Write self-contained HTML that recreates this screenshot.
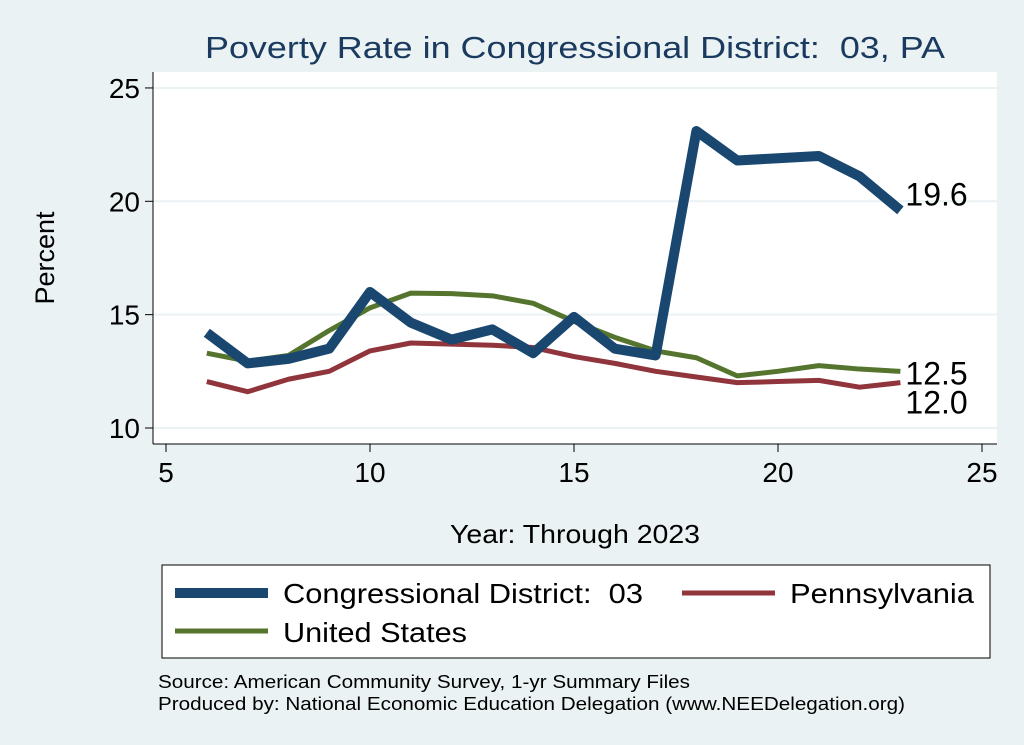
<!DOCTYPE html>
<html><head><meta charset="utf-8"><style>
body{margin:0;background:#eaf2f3;}
svg{display:block;font-family:"Liberation Sans",sans-serif;}
</style></head><body>
<svg id="chart" width="1024" height="745">
<rect x="0" y="0" width="1024" height="745" fill="#eaf2f3"/>
<text x="205" y="58" font-size="31" fill="#1a3a5f" textLength="740" lengthAdjust="spacingAndGlyphs">Poverty Rate in Congressional District:&#160; 03, PA</text>
<rect x="153" y="72" width="844" height="372" fill="#fff"/>
<g id="grid"></g><g id="axes"></g><g id="series"></g>
<text x="54" y="258" text-anchor="middle" font-size="27" transform="rotate(-90 54 258)">Percent</text>
<text x="450" y="543" font-size="26" textLength="250" lengthAdjust="spacingAndGlyphs">Year: Through 2023</text>
<g>
<rect x="162" y="565" width="828" height="93" fill="#fff" stroke="#000" stroke-width="1"/>
<line x1="175" y1="593" x2="268" y2="593" stroke="#1a476f" stroke-width="10"/>
<text x="283" y="603" font-size="28" textLength="360" lengthAdjust="spacingAndGlyphs">Congressional District:&#160; 03</text>
<line x1="682" y1="593" x2="775" y2="593" stroke="#90353b" stroke-width="5"/>
<text x="790" y="603" font-size="28" textLength="184" lengthAdjust="spacingAndGlyphs">Pennsylvania</text>
<line x1="175" y1="631" x2="268" y2="631" stroke="#55752f" stroke-width="5"/>
<text x="283" y="642" font-size="28" textLength="184" lengthAdjust="spacingAndGlyphs">United States</text>
</g>
<text x="158" y="688" font-size="18" textLength="532" lengthAdjust="spacingAndGlyphs">Source: American Community Survey, 1-yr Summary Files</text>
<text x="158" y="710" font-size="18" textLength="747" lengthAdjust="spacingAndGlyphs">Produced by: National Economic Education Delegation (www.NEEDelegation.org)</text>
</svg>
<script>
const years=[6,7,8,9,10,11,12,13,14,15,16,17,18,19,20,21,22,23];
const cdValues=[14.2,12.85,13.05,13.5,16.0,14.65,13.9,14.35,13.3,14.9,13.5,13.2,23.1,21.8,21.9,22.0,21.1,19.6];
const usValues=[13.3,12.95,13.2,14.3,15.3,15.95,15.93,15.83,15.5,14.7,14.0,13.4,13.1,12.3,12.5,12.75,12.6,12.5];
const paValues=[12.05,11.6,12.15,12.5,13.4,13.75,13.7,13.65,13.55,13.15,12.85,12.5,12.25,12.0,12.05,12.1,11.8,12.0];
const xTicks=[5,10,15,20,25];
const yTicks=[10,15,20,25];
const NS="http://www.w3.org/2000/svg";
const x=v=>166+(v-5)*40.8;
const y=v=>428-(v-10)*22.67;
function mk(tag,attrs,parent){const e=document.createElementNS(NS,tag);for(const k in attrs)e.setAttribute(k,attrs[k]);document.getElementById(parent).appendChild(e);return e;}
yTicks.forEach(t=>{
 const g=mk('line',{x1:153,x2:997,y1:y(t),y2:y(t),stroke:'#eaf2f3','stroke-width':2},'grid');
 
 
 const tk=mk('line',{x1:145,x2:153,y1:y(t),y2:y(t),stroke:'#000'},'axes');
 
 
 const tx=mk('text',{x:140,y:y(t)+10,'text-anchor':'end','font-size':28},'axes');tx.textContent=t;
 
 
});
xTicks.forEach(t=>{
 const tk=mk('line',{x1:x(t),x2:x(t),y1:444,y2:452,stroke:'#000'},'axes');
 
 
 const tx=mk('text',{x:x(t),y:482,'text-anchor':'middle','font-size':28},'axes');tx.textContent=t;
 
 
});
const ya=mk('line',{x1:153,x2:153,y1:72,y2:444,stroke:'#000'},'axes');


const xa=mk('line',{x1:153,x2:997,y1:444,y2:444,stroke:'#000'},'axes');


function series(vals,color,w,name,labelDy){
 const p=mk('polyline',{points:years.map((yr,i)=>x(yr)+','+y(vals[i])).join(' '),fill:'none',stroke:color,'stroke-width':w,'stroke-linejoin':'round'},'series');
 
 
 const last=vals[vals.length-1];
 const t=mk('text',{x:x(years[years.length-1])+5,y:y(last)+11+labelDy,'font-size':32},'series');
 t.textContent=last.toFixed(1);
 
 
}
series(paValues,'#90353b',5,'pa',20);
series(usValues,'#55752f',5,'us',2);
series(cdValues,'#1a476f',10,'cd',-16);
</script>
</body></html>
